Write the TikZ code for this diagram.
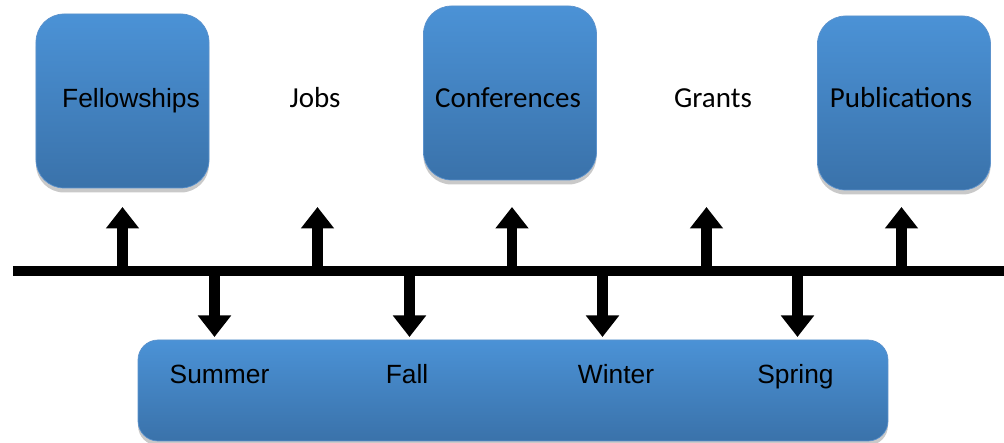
\documentclass[tikz,border=0pt]{standalone}
\usepackage{fontspec}
\setmainfont{Liberation Sans}
\newfontfamily\calibri{Carlito}
\usepackage{tikz}
\usetikzlibrary{arrows.meta,shadows,positioning}
\definecolor{boxtop}{RGB}{75,146,214}
\definecolor{boxbot}{RGB}{58,114,170}
\definecolor{boxedge}{RGB}{92,146,204}

\tikzset{
  card/.style={rounded corners=0.56cm, top color=boxtop, bottom color=boxbot, draw=boxedge, thin,
    minimum width=3.46cm, minimum height=3.48cm,
    drop shadow={shadow xshift=0pt, shadow yshift=-0.09cm, opacity=0.3, fill=black!70}},
  arial/.style={anchor=base, font=\fontsize{15}{18}\selectfont},
  cal/.style={anchor=base, font=\calibri\fontsize{16.5}{20}\selectfont},
  tick/.style={line width=0.21cm, -{Triangle[width=0.64cm,length=0.43cm]}}
}

\begin{document}
\begin{tikzpicture}
	\useasboundingbox (0,0) rectangle (20.08,8.86);

	%top cards
	\node[card] (fellowbox) at (2.45,6.84) {};
	\node[card] (confbox) at (10.2,7.0) {};
	\node[card] (pubbox) at (18.08,6.8) {};
	\node[arial] (fellow) at (2.62,6.7) {Fellowships};
	\node[cal] (jobs) at (6.3,6.7) {Jobs};
	\node[cal] (conf) at (10.16,6.7) {Conferences};
	\node[cal] (grants) at (14.26,6.7) {Grants};
	\node[cal] (pub) at (18.02,6.7) {Publications};

	%seasons
	\node[card, rounded corners=0.4cm, minimum width=15cm, minimum height=2.02cm] (year) at (10.26,1.05) {};
	\node[arial] (summer) at (4.39,1.18) {Summer};
	\node[arial] (fall) at (8.14,1.18) {Fall};
	\node[arial] (winter) at (12.32,1.18) {Winter};
	\node[arial] (spring) at (15.91,1.18) {Spring};

	%timeline
	\coordinate (start) at (0.26,3.43);
	\coordinate (end) at (20.08,3.43);
	\draw[line width=0.2cm] (start) -- (end);

	\coordinate (up) at (0,4.72);
	\coordinate (down) at (0,2.12);
	\coordinate (t1) at (2.45,3.43);
	\coordinate (t2) at (6.35,3.43);
	\coordinate (t3) at (10.24,3.43);
	\coordinate (t4) at (14.13,3.43);
	\coordinate (t5) at (18.03,3.43);
	\coordinate (s1) at (4.29,3.43);
	\coordinate (s2) at (8.19,3.43);
	\coordinate (s3) at (12.05,3.43);
	\coordinate (s4) at (15.95,3.43);

	\draw[tick] (t1) -- (t1 |- up);
	\draw[tick] (t2) -- (t2 |- up);
	\draw[tick] (t3) -- (t3 |- up);
	\draw[tick] (t4) -- (t4 |- up);
	\draw[tick] (t5) -- (t5 |- up);

	\draw[tick] (s1) -- (s1 |- down);
	\draw[tick] (s2) -- (s2 |- down);
	\draw[tick] (s3) -- (s3 |- down);
	\draw[tick] (s4) -- (s4 |- down);
\end{tikzpicture}
\end{document}
